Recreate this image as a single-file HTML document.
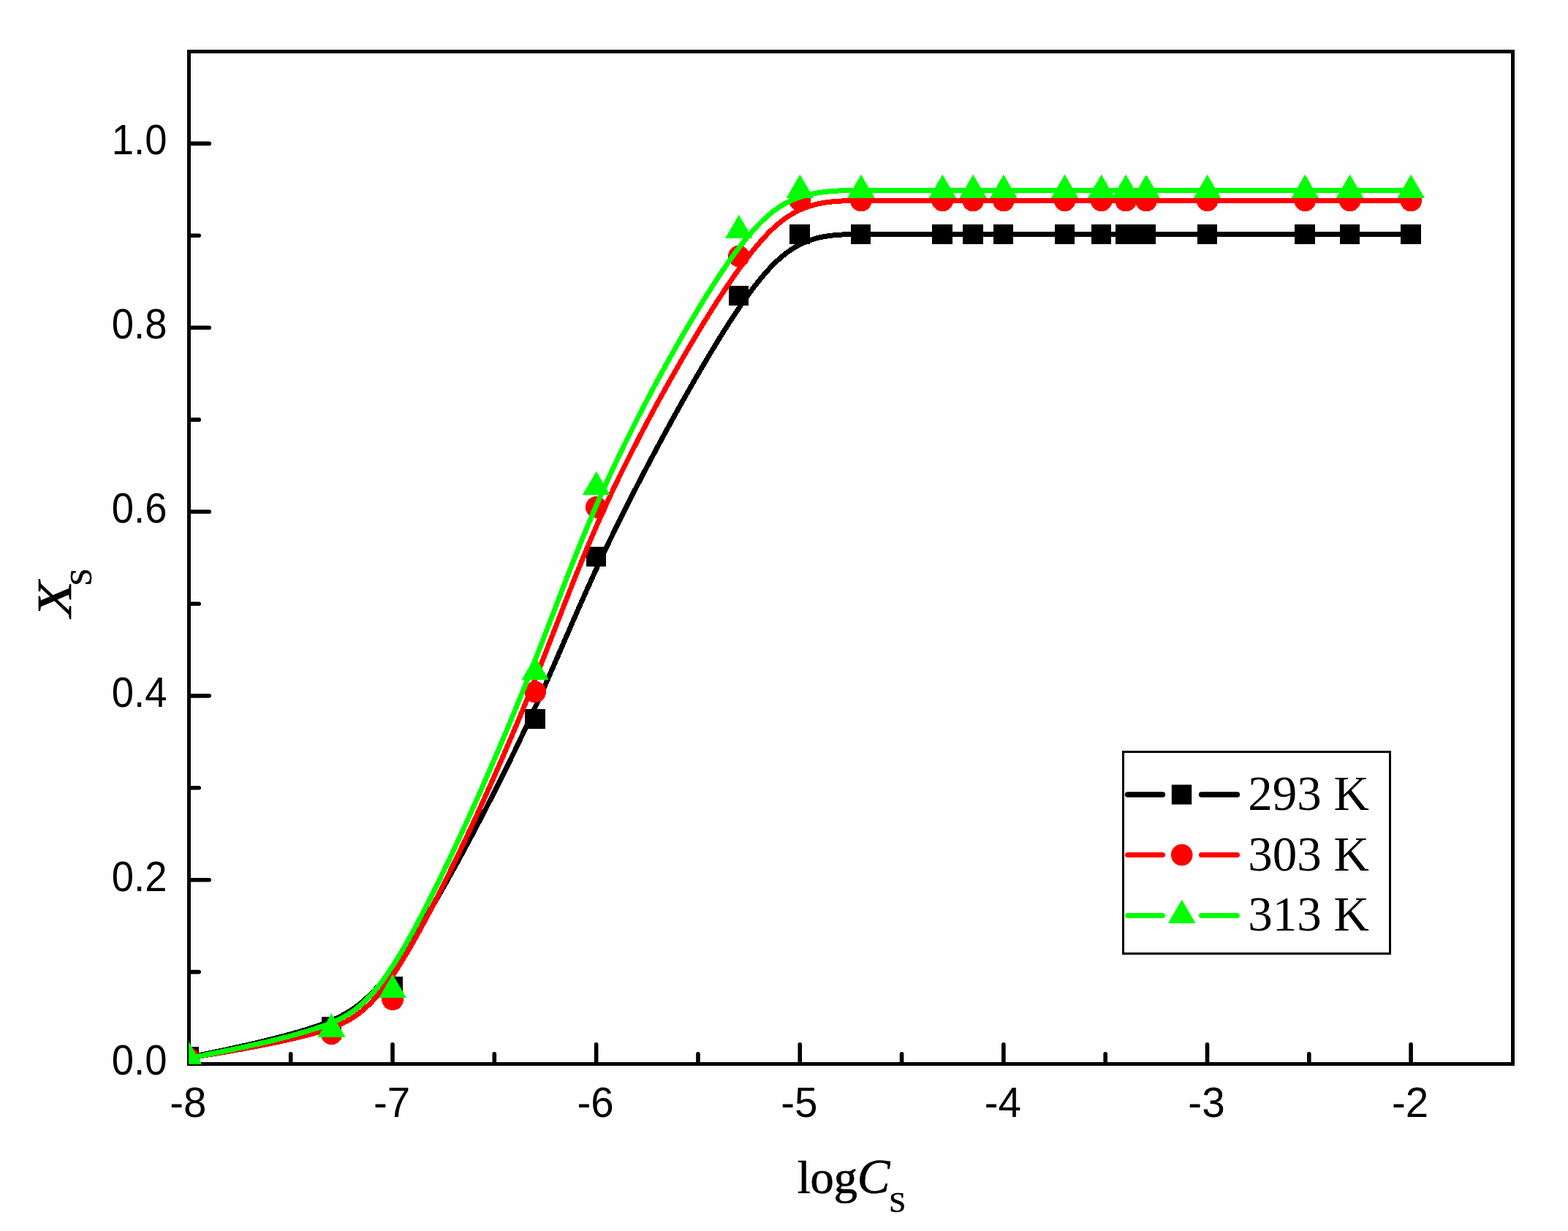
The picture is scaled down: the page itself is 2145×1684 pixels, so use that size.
<!DOCTYPE html>
<html lang="en"><head><meta charset="utf-8"><title>Xs versus logCs at 293 K, 303 K and 313 K</title>
<style>html,body{margin:0;padding:0;background:#fff;}body{width:2145px;height:1684px;overflow:hidden;}svg{display:block;}.tk{font-family:"Liberation Sans", Arial, sans-serif;fill:#000;}.ser{font-family:"Liberation Serif", "Times New Roman", serif;fill:#000;}.ttl{stroke:#000;stroke-width:0.7px;stroke-linejoin:round;}</style></head><body>
<svg width="2145" height="1684" viewBox="0 0 2145 1684">
<rect x="0" y="0" width="2145" height="1684" fill="#ffffff"/>
<rect x="8" y="41" width="2137" height="1643" fill="#fefefe"/>
<rect x="258.5" y="70.5" width="1811" height="1385" fill="none" stroke="#000" stroke-width="5" stroke-linejoin="miter"/>
<g stroke="#000" stroke-width="5.6" fill="none" stroke-linecap="round">
<line x1="397.71" y1="1454.5" x2="397.71" y2="1441.8"/>
<line x1="537.02" y1="1454.5" x2="537.02" y2="1428.8"/>
<line x1="676.32" y1="1454.5" x2="676.32" y2="1441.8"/>
<line x1="815.63" y1="1454.5" x2="815.63" y2="1428.8"/>
<line x1="954.94" y1="1454.5" x2="954.94" y2="1441.8"/>
<line x1="1094.25" y1="1454.5" x2="1094.25" y2="1428.8"/>
<line x1="1233.55" y1="1454.5" x2="1233.55" y2="1441.8"/>
<line x1="1372.86" y1="1454.5" x2="1372.86" y2="1428.8"/>
<line x1="1512.17" y1="1454.5" x2="1512.17" y2="1441.8"/>
<line x1="1651.48" y1="1454.5" x2="1651.48" y2="1428.8"/>
<line x1="1790.78" y1="1454.5" x2="1790.78" y2="1441.8"/>
<line x1="1930.09" y1="1454.5" x2="1930.09" y2="1428.8"/>
<line x1="259.5" y1="1329.59" x2="272.2" y2="1329.59"/>
<line x1="259.5" y1="1203.68" x2="286.2" y2="1203.68"/>
<line x1="259.5" y1="1077.77" x2="272.2" y2="1077.77"/>
<line x1="259.5" y1="951.86" x2="286.2" y2="951.86"/>
<line x1="259.5" y1="825.95" x2="272.2" y2="825.95"/>
<line x1="259.5" y1="700.05" x2="286.2" y2="700.05"/>
<line x1="259.5" y1="574.14" x2="272.2" y2="574.14"/>
<line x1="259.5" y1="448.23" x2="286.2" y2="448.23"/>
<line x1="259.5" y1="322.32" x2="272.2" y2="322.32"/>
<line x1="259.5" y1="196.41" x2="286.2" y2="196.41"/>
</g>
<g class="tk" font-size="56.5" text-anchor="middle">
<text x="257.4" y="1528">-8</text>
<text x="536.02" y="1528">-7</text>
<text x="814.63" y="1528">-6</text>
<text x="1093.25" y="1528">-5</text>
<text x="1371.86" y="1528">-4</text>
<text x="1650.48" y="1528">-3</text>
<text x="1929.09" y="1528">-2</text>
</g>
<g class="tk" font-size="57.75">
<text transform="translate(152.8,1470) scale(0.9424,1)">0.0</text>
<text transform="translate(152.8,1219) scale(0.9424,1)">0.2</text>
<text transform="translate(152.8,967) scale(0.9424,1)">0.4</text>
<text transform="translate(152.8,715) scale(0.9424,1)">0.6</text>
<text transform="translate(152.8,463) scale(0.9424,1)">0.8</text>
<text transform="translate(152.8,211) scale(0.9424,1)">1.0</text>
</g>
<clipPath id="cp"><rect x="258" y="70.5" width="1811.5" height="1385.5"/></clipPath>
<g clip-path="url(#cp)" shape-rendering="crispEdges">
<path d="M258.5 1446.6 L258.5 1446.6 L258.52 1446.6 L258.56 1446.59 L258.65 1446.57 L258.79 1446.54 L259.01 1446.49 L259.31 1446.43 L259.7 1446.35 L260.21 1446.24 L260.85 1446.11 L261.63 1445.94 L262.56 1445.75 L263.67 1445.52 L264.95 1445.25 L266.44 1444.94 L268.13 1444.58 L270.05 1444.18 L272.21 1443.72 L274.63 1443.22 L277.31 1442.66 L280.28 1442.03 L283.54 1441.35 L287.11 1440.6 L291.01 1439.78 L295.23 1438.9 L299.78 1437.94 L304.62 1436.92 L309.73 1435.83 L315.09 1434.67 L320.68 1433.46 L326.48 1432.19 L332.45 1430.85 L338.59 1429.46 L344.87 1428.02 L351.27 1426.53 L357.76 1424.98 L364.32 1423.39 L370.93 1421.75 L377.57 1420.06 L384.22 1418.33 L390.85 1416.56 L397.44 1414.75 L403.98 1412.9 L410.43 1411.02 L416.77 1409.1 L422.99 1407.15 L429.06 1405.17 L434.96 1403.17 L440.67 1401.13 L446.2 1399.04 L451.57 1396.89 L456.8 1394.64 L461.9 1392.29 L466.88 1389.8 L471.77 1387.15 L476.58 1384.34 L481.32 1381.32 L486.01 1378.08 L490.68 1374.61 L495.32 1370.87 L499.97 1366.85 L504.63 1362.53 L509.33 1357.89 L514.07 1352.89 L518.88 1347.53 L523.77 1341.78 L528.75 1335.62 L533.85 1329.03 L539.07 1321.98 L544.45 1314.46 L549.98 1306.45 L555.69 1297.92 L561.59 1288.86 L567.66 1279.29 L573.9 1269.25 L580.28 1258.77 L586.79 1247.88 L593.42 1236.62 L600.14 1225.02 L606.94 1213.11 L613.81 1200.93 L620.72 1188.5 L627.67 1175.86 L634.63 1163.05 L641.59 1150.09 L648.54 1137.02 L655.45 1123.87 L662.32 1110.68 L669.12 1097.47 L675.84 1084.29 L682.47 1071.16 L688.98 1058.11 L695.36 1045.19 L701.6 1032.41 L707.67 1019.82 L713.57 1007.45 L719.28 995.32 L724.82 983.42 L730.19 971.73 L735.41 960.23 L740.51 948.9 L745.5 937.72 L750.38 926.67 L755.19 915.73 L759.94 904.87 L764.63 894.09 L769.29 883.35 L773.94 872.64 L778.58 861.94 L783.25 851.23 L787.94 840.48 L792.68 829.69 L797.49 818.82 L802.38 807.85 L807.37 796.77 L812.46 785.56 L817.69 774.2 L823.06 762.66 L828.59 750.93 L834.31 738.98 L840.2 726.81 L846.28 714.43 L852.52 701.88 L858.9 689.18 L865.41 676.36 L872.03 663.46 L878.76 650.5 L885.56 637.51 L892.42 624.53 L899.34 611.57 L906.28 598.68 L913.25 585.87 L920.21 573.19 L927.16 560.65 L934.07 548.3 L940.94 536.15 L947.74 524.24 L954.46 512.59 L961.08 501.25 L967.59 490.23 L973.98 479.56 L980.21 469.28 L986.29 459.42 L992.19 450 L997.9 441.05 L1003.42 432.55 L1008.77 424.51 L1013.94 416.9 L1018.96 409.7 L1023.82 402.91 L1028.54 396.52 L1033.12 390.5 L1037.57 384.85 L1041.9 379.54 L1046.12 374.58 L1050.23 369.94 L1054.25 365.61 L1058.18 361.57 L1062.02 357.82 L1065.8 354.33 L1069.51 351.1 L1073.16 348.12 L1076.76 345.36 L1080.33 342.81 L1083.86 340.47 L1087.37 338.31 L1090.86 336.33 L1094.35 334.5 L1097.83 332.82 L1101.31 331.28 L1104.8 329.88 L1108.3 328.6 L1111.8 327.45 L1115.31 326.41 L1118.84 325.48 L1122.38 324.65 L1125.94 323.92 L1129.51 323.28 L1133.1 322.72 L1136.72 322.25 L1140.36 321.85 L1144.03 321.51 L1147.72 321.24 L1151.45 321.02 L1155.2 320.85 L1158.99 320.72 L1162.82 320.63 L1166.69 320.56 L1170.59 320.53 L1174.54 320.51 L1178.54 320.5 L1182.57 320.5 L1277.77 320.5 L1331.17 320.5 L1379.93 320.5 L1450.97 320.5 L1503.91 320.5 L1539.2 320.5 L1577.28 320.5 L1659.94 320.5 L1773.24 320.5 L1850.32 320.5 L1916.26 320.5 L1930.19 320.5" fill="none" stroke="#000000" stroke-width="7" stroke-linejoin="round" stroke-linecap="butt"/>
<rect x="244.6" y="1432.1" width="27.4" height="27" fill="#000000"/>
<rect x="439.63" y="1391.2" width="27.4" height="27" fill="#000000"/>
<rect x="523.22" y="1336.1" width="27.4" height="27" fill="#000000"/>
<rect x="718.25" y="969.9" width="27.4" height="27" fill="#000000"/>
<rect x="801.83" y="748" width="27.4" height="27" fill="#000000"/>
<rect x="996.86" y="391" width="27.4" height="27" fill="#000000"/>
<rect x="1080.45" y="307" width="27.4" height="27" fill="#000000"/>
<rect x="1164.03" y="307" width="27.4" height="27" fill="#000000"/>
<rect x="1275.48" y="307" width="27.4" height="27" fill="#000000"/>
<rect x="1317.27" y="307" width="27.4" height="27" fill="#000000"/>
<rect x="1359.06" y="307" width="27.4" height="27" fill="#000000"/>
<rect x="1442.65" y="307" width="27.4" height="27" fill="#000000"/>
<rect x="1492.8" y="307" width="27.4" height="27" fill="#000000"/>
<rect x="1526.23" y="307" width="27.4" height="27" fill="#000000"/>
<rect x="1554.09" y="307" width="27.4" height="27" fill="#000000"/>
<rect x="1637.68" y="307" width="27.4" height="27" fill="#000000"/>
<rect x="1771.41" y="307" width="27.4" height="27" fill="#000000"/>
<rect x="1832.71" y="307" width="27.4" height="27" fill="#000000"/>
<rect x="1916.29" y="307" width="27.4" height="27" fill="#000000"/>
<path d="M258.5 1447.5 L258.5 1447.5 L258.52 1447.5 L258.56 1447.49 L258.65 1447.47 L258.79 1447.45 L259.01 1447.41 L259.31 1447.36 L259.7 1447.3 L260.21 1447.21 L260.85 1447.1 L261.63 1446.97 L262.56 1446.81 L263.67 1446.63 L264.95 1446.41 L266.44 1446.16 L268.13 1445.87 L270.05 1445.55 L272.21 1445.18 L274.63 1444.77 L277.31 1444.32 L280.28 1443.82 L283.54 1443.26 L287.11 1442.66 L291.01 1442 L295.23 1441.28 L299.78 1440.51 L304.62 1439.69 L309.73 1438.81 L315.09 1437.87 L320.68 1436.89 L326.48 1435.86 L332.45 1434.78 L338.59 1433.66 L344.87 1432.49 L351.27 1431.27 L357.76 1430.02 L364.32 1428.72 L370.93 1427.39 L377.57 1426.01 L384.22 1424.6 L390.85 1423.15 L397.44 1421.67 L403.98 1420.16 L410.43 1418.61 L416.77 1417.04 L422.99 1415.44 L429.06 1413.81 L434.96 1412.15 L440.67 1410.46 L446.2 1408.73 L451.57 1406.92 L456.8 1405 L461.9 1402.96 L466.88 1400.76 L471.77 1398.38 L476.58 1395.8 L481.32 1392.98 L486.01 1389.9 L490.68 1386.54 L495.32 1382.87 L499.97 1378.86 L504.63 1374.49 L509.33 1369.73 L514.07 1364.56 L518.88 1358.94 L523.77 1352.86 L528.75 1346.29 L533.85 1339.2 L539.07 1331.56 L544.45 1323.35 L549.98 1314.54 L555.69 1305.12 L561.59 1295.05 L567.66 1284.38 L573.9 1273.13 L580.28 1261.35 L586.79 1249.08 L593.42 1236.36 L600.14 1223.23 L606.94 1209.72 L613.81 1195.88 L620.72 1181.74 L627.67 1167.34 L634.63 1152.73 L641.59 1137.94 L648.54 1123.01 L655.45 1107.98 L662.32 1092.9 L669.12 1077.79 L675.84 1062.7 L682.47 1047.66 L688.98 1032.73 L695.36 1017.93 L701.6 1003.3 L707.67 988.89 L713.57 974.73 L719.28 960.86 L724.82 947.26 L730.19 933.92 L735.41 920.81 L740.51 907.92 L745.5 895.23 L750.38 882.72 L755.19 870.37 L759.94 858.16 L764.63 846.08 L769.29 834.09 L773.94 822.2 L778.58 810.37 L783.25 798.59 L787.94 786.84 L792.68 775.1 L797.49 763.35 L802.38 751.57 L807.37 739.75 L812.46 727.86 L817.69 715.88 L823.06 703.81 L828.59 691.61 L834.31 679.27 L840.2 666.77 L846.28 654.15 L852.52 641.42 L858.9 628.6 L865.41 615.73 L872.03 602.83 L878.76 589.93 L885.56 577.04 L892.42 564.21 L899.34 551.45 L906.28 538.8 L913.25 526.26 L920.21 513.89 L927.16 501.69 L934.07 489.69 L940.94 477.93 L947.74 466.42 L954.46 455.2 L961.08 444.28 L967.59 433.7 L973.98 423.48 L980.21 413.65 L986.29 404.23 L992.19 395.25 L997.9 386.73 L1003.42 378.66 L1008.77 371.02 L1013.94 363.81 L1018.96 357.01 L1023.82 350.61 L1028.54 344.59 L1033.12 338.93 L1037.57 333.63 L1041.9 328.67 L1046.12 324.04 L1050.23 319.72 L1054.25 315.69 L1058.18 311.96 L1062.02 308.49 L1065.8 305.28 L1069.51 302.31 L1073.16 299.57 L1076.76 297.05 L1080.33 294.73 L1083.86 292.6 L1087.37 290.64 L1090.86 288.84 L1094.35 287.18 L1097.83 285.66 L1101.31 284.27 L1104.8 283 L1108.3 281.84 L1111.8 280.79 L1115.31 279.85 L1118.84 279.01 L1122.38 278.26 L1125.94 277.6 L1129.51 277.02 L1133.1 276.52 L1136.72 276.09 L1140.36 275.72 L1144.03 275.42 L1147.72 275.17 L1151.45 274.97 L1155.2 274.81 L1158.99 274.7 L1162.82 274.61 L1166.69 274.56 L1170.59 274.52 L1174.54 274.51 L1178.54 274.5 L1182.57 274.5 L1277.77 274.5 L1331.17 274.5 L1379.93 274.5 L1450.97 274.5 L1503.91 274.5 L1539.2 274.5 L1577.28 274.5 L1659.94 274.5 L1773.24 274.5 L1850.32 274.5 L1916.26 274.5 L1930.19 274.5" fill="none" stroke="#ff0000" stroke-width="7" stroke-linejoin="round" stroke-linecap="butt"/>
<circle cx="258.5" cy="1448" r="14.8" fill="#ff0000"/>
<circle cx="453.53" cy="1414.5" r="14.8" fill="#ff0000"/>
<circle cx="537.12" cy="1367.4" r="14.8" fill="#ff0000"/>
<circle cx="732.15" cy="946.6" r="14.8" fill="#ff0000"/>
<circle cx="815.73" cy="693.9" r="14.8" fill="#ff0000"/>
<circle cx="1010.76" cy="350.6" r="14.8" fill="#ff0000"/>
<circle cx="1094.35" cy="274.5" r="14.8" fill="#ff0000"/>
<circle cx="1177.93" cy="274.5" r="14.8" fill="#ff0000"/>
<circle cx="1289.38" cy="274.5" r="14.8" fill="#ff0000"/>
<circle cx="1331.17" cy="274.5" r="14.8" fill="#ff0000"/>
<circle cx="1372.96" cy="274.5" r="14.8" fill="#ff0000"/>
<circle cx="1456.55" cy="274.5" r="14.8" fill="#ff0000"/>
<circle cx="1506.7" cy="274.5" r="14.8" fill="#ff0000"/>
<circle cx="1540.13" cy="274.5" r="14.8" fill="#ff0000"/>
<circle cx="1567.99" cy="274.5" r="14.8" fill="#ff0000"/>
<circle cx="1651.58" cy="274.5" r="14.8" fill="#ff0000"/>
<circle cx="1785.31" cy="274.5" r="14.8" fill="#ff0000"/>
<circle cx="1846.61" cy="274.5" r="14.8" fill="#ff0000"/>
<circle cx="1930.19" cy="274.5" r="14.8" fill="#ff0000"/>
<path d="M258.5 1447.7 L258.5 1447.7 L258.52 1447.7 L258.56 1447.69 L258.65 1447.67 L258.79 1447.64 L259.01 1447.6 L259.31 1447.54 L259.7 1447.46 L260.21 1447.36 L260.85 1447.23 L261.63 1447.07 L262.56 1446.88 L263.67 1446.66 L264.95 1446.4 L266.44 1446.1 L268.13 1445.76 L270.05 1445.38 L272.21 1444.94 L274.63 1444.46 L277.31 1443.92 L280.28 1443.32 L283.54 1442.67 L287.11 1441.95 L291.01 1441.17 L295.23 1440.32 L299.78 1439.4 L304.62 1438.42 L309.73 1437.37 L315.09 1436.27 L320.68 1435.11 L326.48 1433.88 L332.45 1432.61 L338.59 1431.27 L344.87 1429.89 L351.27 1428.46 L357.76 1426.98 L364.32 1425.45 L370.93 1423.87 L377.57 1422.25 L384.22 1420.59 L390.85 1418.89 L397.44 1417.16 L403.98 1415.38 L410.43 1413.58 L416.77 1411.73 L422.99 1409.86 L429.06 1407.96 L434.96 1406.03 L440.67 1404.07 L446.2 1402.06 L451.57 1399.97 L456.8 1397.78 L461.9 1395.45 L466.88 1392.97 L471.77 1390.3 L476.58 1387.41 L481.32 1384.29 L486.01 1380.91 L490.68 1377.23 L495.32 1373.24 L499.97 1368.9 L504.63 1364.2 L509.33 1359.09 L514.07 1353.56 L518.88 1347.59 L523.77 1341.13 L528.75 1334.17 L533.85 1326.68 L539.07 1318.64 L544.45 1310.01 L549.98 1300.77 L555.69 1290.9 L561.59 1280.38 L567.66 1269.23 L573.9 1257.5 L580.28 1245.24 L586.79 1232.47 L593.42 1219.25 L600.14 1205.6 L606.94 1191.59 L613.81 1177.23 L620.72 1162.58 L627.67 1147.68 L634.63 1132.56 L641.59 1117.28 L648.54 1101.86 L655.45 1086.35 L662.32 1070.79 L669.12 1055.22 L675.84 1039.68 L682.47 1024.22 L688.98 1008.87 L695.36 993.67 L701.6 978.67 L707.67 963.9 L713.57 949.42 L719.28 935.24 L724.82 921.35 L730.19 907.75 L735.41 894.4 L740.51 881.29 L745.5 868.39 L750.38 855.69 L755.19 843.17 L759.94 830.8 L764.63 818.56 L769.29 806.44 L773.94 794.42 L778.58 782.46 L783.25 770.56 L787.94 758.7 L792.68 746.84 L797.49 734.98 L802.38 723.09 L807.37 711.15 L812.46 699.14 L817.69 687.05 L823.06 674.84 L828.59 662.5 L834.31 650.02 L840.2 637.37 L846.28 624.58 L852.52 611.67 L858.9 598.68 L865.41 585.63 L872.03 572.56 L878.76 559.48 L885.56 546.44 L892.42 533.45 L899.34 520.55 L906.28 507.76 L913.25 495.11 L920.21 482.64 L927.16 470.36 L934.07 458.32 L940.94 446.53 L947.74 435.03 L954.46 423.84 L961.08 412.99 L967.59 402.51 L973.98 392.43 L980.21 382.78 L986.29 373.59 L992.19 364.88 L997.9 356.68 L1003.42 348.97 L1008.77 341.75 L1013.94 334.98 L1018.96 328.66 L1023.82 322.76 L1028.54 317.27 L1033.12 312.18 L1037.57 307.45 L1041.9 303.09 L1046.12 299.06 L1050.23 295.36 L1054.25 291.96 L1058.18 288.85 L1062.02 286 L1065.8 283.41 L1069.51 281.06 L1073.16 278.92 L1076.76 276.98 L1080.33 275.23 L1083.86 273.64 L1087.37 272.19 L1090.86 270.88 L1094.35 269.68 L1097.83 268.58 L1101.31 267.57 L1104.8 266.65 L1108.3 265.81 L1111.8 265.06 L1115.31 264.37 L1118.84 263.76 L1122.38 263.22 L1125.94 262.74 L1129.51 262.32 L1133.1 261.96 L1136.72 261.65 L1140.36 261.38 L1144.03 261.16 L1147.72 260.98 L1151.45 260.84 L1155.2 260.73 L1158.99 260.64 L1162.82 260.58 L1166.69 260.54 L1170.59 260.52 L1174.54 260.51 L1178.54 260.5 L1182.57 260.5 L1277.77 260.5 L1331.17 260.5 L1379.93 260.5 L1450.97 260.5 L1503.91 260.5 L1539.2 260.5 L1577.28 260.5 L1659.94 260.5 L1773.24 260.5 L1850.32 260.5 L1916.26 260.5 L1930.19 260.5" fill="none" stroke="#00ff00" stroke-width="7" stroke-linejoin="round" stroke-linecap="butt"/>
<polygon points="258.5,1425.4 277.3,1457.7 239.7,1457.7" fill="#00ff00"/>
<polygon points="453.53,1386.2 472.33,1418.5 434.73,1418.5" fill="#00ff00"/>
<polygon points="537.12,1332.7 555.92,1365 518.32,1365" fill="#00ff00"/>
<polygon points="732.15,898 750.95,930.3 713.35,930.3" fill="#00ff00"/>
<polygon points="815.73,644.6 834.53,676.9 796.93,676.9" fill="#00ff00"/>
<polygon points="1010.76,293.8 1029.56,326.1 991.96,326.1" fill="#00ff00"/>
<polygon points="1094.35,238.7 1113.15,271 1075.55,271" fill="#00ff00"/>
<polygon points="1177.93,238.7 1196.73,271 1159.13,271" fill="#00ff00"/>
<polygon points="1289.38,238.7 1308.18,271 1270.58,271" fill="#00ff00"/>
<polygon points="1331.17,238.7 1349.97,271 1312.37,271" fill="#00ff00"/>
<polygon points="1372.96,238.7 1391.76,271 1354.16,271" fill="#00ff00"/>
<polygon points="1456.55,238.7 1475.35,271 1437.75,271" fill="#00ff00"/>
<polygon points="1506.7,238.7 1525.5,271 1487.9,271" fill="#00ff00"/>
<polygon points="1540.13,238.7 1558.93,271 1521.33,271" fill="#00ff00"/>
<polygon points="1567.99,238.7 1586.79,271 1549.19,271" fill="#00ff00"/>
<polygon points="1651.58,238.7 1670.38,271 1632.78,271" fill="#00ff00"/>
<polygon points="1785.31,238.7 1804.11,271 1766.51,271" fill="#00ff00"/>
<polygon points="1846.61,238.7 1865.41,271 1827.81,271" fill="#00ff00"/>
<polygon points="1930.19,238.7 1948.99,271 1911.39,271" fill="#00ff00"/>
</g>
<rect x="1536.5" y="1028.5" width="365" height="276" fill="#ffffff" stroke="#000" stroke-width="3"/>
<g stroke="#000000" stroke-width="7.6" stroke-linecap="round"><line x1="1542.6" y1="1087" x2="1590.4" y2="1087"/><line x1="1643.6" y1="1087" x2="1692.4" y2="1087"/></g>
<rect x="1602.8" y="1073.5" width="27.4" height="27" fill="#000000"/>
<text class="ser" font-size="67" x="1707.3" y="1108">293 K</text>
<g stroke="#ff0000" stroke-width="7.2" stroke-linecap="round"><line x1="1542.6" y1="1169.5" x2="1590.4" y2="1169.5"/><line x1="1643.6" y1="1169.5" x2="1692.4" y2="1169.5"/></g>
<circle cx="1616.7" cy="1169.5" r="14.8" fill="#ff0000"/>
<text class="ser" font-size="67" x="1707.3" y="1191">303 K</text>
<g stroke="#00ff00" stroke-width="7.0" stroke-linecap="round"><line x1="1542.6" y1="1252.5" x2="1590.4" y2="1252.5"/><line x1="1643.6" y1="1252.5" x2="1692.4" y2="1252.5"/></g>
<polygon points="1616.7,1230.7 1635.5,1263 1597.9,1263" fill="#00ff00"/>
<text class="ser" font-size="67" x="1707.3" y="1273">313 K</text>
<text class="ser ttl" x="1090.7" y="1632" font-size="64.4">log<tspan x="1172.85" font-style="italic" font-size="67">C</tspan><tspan x="1216.2" y="1658.4" font-size="41">S</tspan></text>
<g class="ser ttl"><text transform="translate(97,844.15) rotate(-90) scale(1.183,1)" font-size="68.3" font-style="italic">X</text><text transform="translate(124.9,801.6) rotate(-90) scale(1.007,1)" font-size="42.8">S</text></g>
</svg></body></html>
